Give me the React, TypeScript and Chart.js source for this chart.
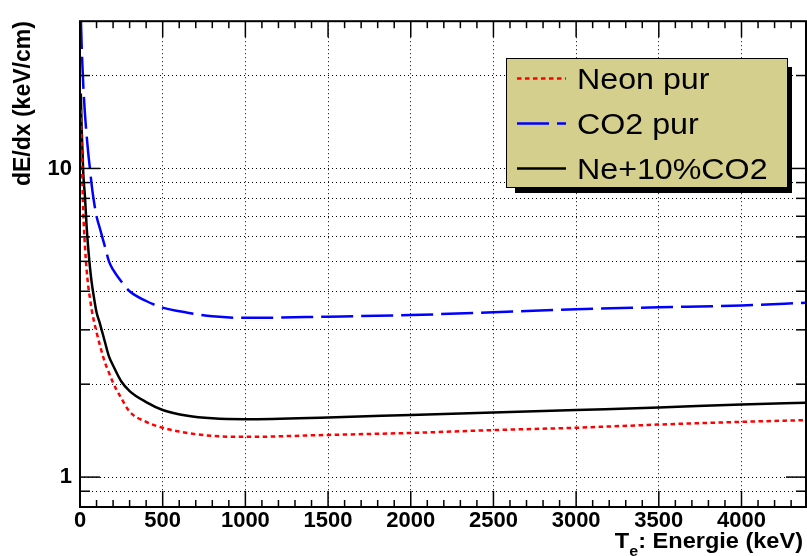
import React, { useEffect, useRef } from 'react';
import { Chart, registerables } from 'chart.js';

Chart.register(...registerables);

// ---- data ----
const energy = [5, 10, 20, 30, 40, 50, 60, 70, 80, 100, 120, 150, 175, 200, 250, 300, 400, 500, 650, 800, 1000, 1500, 2000, 2500, 3000, 3500, 4000, 4390];
const neonPur = [15.5, 11.3, 7.2, 5.6, 4.7, 4.15, 3.8, 3.5, 3.28, 2.95, 2.68, 2.36, 2.18, 2.02, 1.8, 1.63, 1.51, 1.445, 1.39, 1.36, 1.35, 1.37, 1.39, 1.42, 1.445, 1.48, 1.51, 1.53];
const co2Pur = [31, 25, 18.5, 15, 12.8, 11.2, 10, 8.9, 8.1, 7.0, 6.4, 5.6, 5.0, 4.7, 4.3, 4.0, 3.72, 3.54, 3.41, 3.32, 3.28, 3.31, 3.35, 3.42, 3.5, 3.55, 3.6, 3.67];
const neCo2 = [17.5, 13.5, 9.6, 8.1, 6.5, 5.5, 4.8, 4.3, 3.95, 3.42, 3.15, 2.75, 2.46, 2.3, 2.04, 1.9, 1.75, 1.65, 1.58, 1.55, 1.54, 1.56, 1.59, 1.62, 1.65, 1.68, 1.72, 1.74];

const seriesLabels = ['Neon pur', 'CO2 pur', 'Ne+10%CO2'];

const xMin = 0;
const xMax = 4390;
const xMajorTicks = [0, 500, 1000, 1500, 2000, 2500, 3000, 3500, 4000];
const xMinorStep = 100;
const yMin = 0.8;
const yMax = 30;
const yTickValues = [0.9, 1, 2, 3, 4, 5, 6, 7, 8, 9, 10, 20];
const yLabeled = [1, 10];

const yTitle = 'dE/dx (keV/cm)';
const xTitleMain = 'T';
const xTitleSub = 'e';
const xTitleRest = ': Energie (keV)';

const FONT = '"Liberation Sans", Arial, Helvetica, sans-serif';

const framePlugin = {
  id: 'rootFrame',
  afterDraw(chart: any) {
    const { ctx, chartArea, scales } = chart;
    const { left, right, top, bottom } = chartArea;
    const xs = scales.x;
    const ys = scales.y;
    ctx.save();
    ctx.setLineDash([]);
    ctx.strokeStyle = '#000';

    // ticks (inside)
    ctx.lineWidth = 1.5;
    const line = (x1: number, y1: number, x2: number, y2: number) => {
      ctx.beginPath();
      ctx.moveTo(x1, y1);
      ctx.lineTo(x2, y2);
      ctx.stroke();
    };
    for (let v = xMin; v <= xMax; v += xMinorStep) {
      const px = xs.getPixelForValue(v);
      const len = xMajorTicks.includes(v) ? 16 : 7;
      line(px, bottom, px, bottom - len);
      line(px, top, px, top + len);
    }
    for (const v of yTickValues) {
      const py = ys.getPixelForValue(v);
      const len = yLabeled.includes(v) ? 20 : 10;
      line(left, py, left + len, py);
      line(right, py, right - len, py);
    }

    // frame
    ctx.lineWidth = 2;
    ctx.strokeRect(left, top, right - left, bottom - top);

    // x title with subscript
    const sx = 1.07;
    ctx.fillStyle = '#000';
    ctx.textBaseline = 'alphabetic';
    ctx.textAlign = 'left';
    ctx.font = `bold 22px ${FONT}`;
    const wT = ctx.measureText(xTitleMain).width;
    const wR = ctx.measureText(xTitleRest).width;
    ctx.font = `bold 15px ${FONT}`;
    const wE = ctx.measureText(xTitleSub).width;
    const total = (wT + wE + wR) * sx;
    ctx.save();
    ctx.translate(803 - total, 548);
    ctx.scale(sx, 1);
    ctx.font = `bold 22px ${FONT}`;
    ctx.fillText(xTitleMain, 0, 0);
    ctx.fillText(xTitleRest, wT + wE, 0);
    ctx.font = `bold 15px ${FONT}`;
    ctx.fillText(xTitleSub, wT, 8);
    ctx.restore();

    // legend with shadow
    const L = { x: 506, y: 58, w: 281, h: 129 };
    ctx.fillStyle = '#000';
    ctx.fillRect(L.x + 9, L.y + 9, L.w - 4, L.h - 3 + 0);
    ctx.fillStyle = '#d4cf8d';
    ctx.fillRect(L.x, L.y, L.w, L.h);
    ctx.lineWidth = 1;
    ctx.strokeStyle = '#000';
    ctx.strokeRect(L.x + 0.5, L.y + 0.5, L.w, L.h);

    const baselines = [89, 134, 179];
    chart.data.datasets.forEach((ds: any, i: number) => {
      const b = baselines[i];
      const ly = b - 10.5;
      ctx.save();
      ctx.strokeStyle = ds.borderColor;
      ctx.lineWidth = ds.borderWidth;
      ctx.setLineDash(ds.borderDash || []);
      ctx.beginPath();
      ctx.moveTo(517, ly);
      ctx.lineTo(566, ly);
      ctx.stroke();
      ctx.restore();
      ctx.save();
      ctx.fillStyle = '#000';
      ctx.font = `29px ${FONT}`;
      ctx.translate(577, b);
      ctx.scale(1.11, 1);
      ctx.fillText(ds.label, 0, 0);
      ctx.restore();
    });
    ctx.restore();
  },
};

export default function App() {
  const ref = useRef<HTMLCanvasElement | null>(null);

  useEffect(() => {
    if (!ref.current) return;
    const mk = (vals: number[]) => energy.map((x, i) => ({ x, y: vals[i] }));
    const chart = new Chart(ref.current, {
      type: 'line',
      data: {
        datasets: [
          {
            label: seriesLabels[0],
            data: mk(neonPur),
            borderColor: '#ff0000',
            borderWidth: 2.5,
            borderDash: [4.5, 3.5],
            pointRadius: 0,
            fill: false,
            cubicInterpolationMode: 'monotone',
            clip: 0,
          },
          {
            label: seriesLabels[1],
            data: mk(co2Pur),
            borderColor: '#0000ff',
            borderWidth: 2.5,
            borderDash: [32, 8],
            pointRadius: 0,
            fill: false,
            cubicInterpolationMode: 'monotone',
            clip: 0,
          },
          {
            label: seriesLabels[2],
            data: mk(neCo2),
            borderColor: '#000000',
            borderWidth: 2.5,
            borderDash: [],
            pointRadius: 0,
            fill: false,
            cubicInterpolationMode: 'monotone',
            clip: 0,
          },
        ],
      } as any,
      options: {
        responsive: false,
        animation: false,
        devicePixelRatio: 1,
        layout: { padding: { top: 15, right: 1, left: 0, bottom: 0 } },
        plugins: { legend: { display: false }, tooltip: { enabled: false } },
        scales: {
          x: {
            type: 'linear',
            min: xMin,
            max: xMax,
            afterFit: (s: any) => {
              s.height = 49;
            },
            afterBuildTicks: (s: any) => {
              s.ticks = xMajorTicks.map((v) => ({ value: v }));
            },
            ticks: {
              callback: (v: any) => String(v),
              autoSkip: false,
              maxRotation: 0,
              padding: 1,
              color: '#000',
              font: { family: FONT, size: 22, weight: 'bold' },
            },
            grid: { color: '#000', lineWidth: 1, drawTicks: false },
            border: { display: false, dash: [1, 3] },
          },
          y: {
            type: 'logarithmic',
            min: yMin,
            max: yMax,
            afterFit: (s: any) => {
              s.width = 80;
            },
            afterBuildTicks: (s: any) => {
              s.ticks = yTickValues.map((v) => ({ value: v }));
            },
            ticks: {
              callback: (v: any) => (yLabeled.includes(Number(v)) ? String(v) : ''),
              autoSkip: false,
              padding: 8,
              color: '#000',
              font: { family: FONT, size: 22, weight: 'bold' },
            },
            grid: { color: '#000', lineWidth: 1, drawTicks: false },
            border: { display: false, dash: [1, 3] },
            title: {
              display: true,
              text: yTitle,
              align: 'end',
              color: '#000',
              padding: { top: 10, bottom: 0 },
              font: { family: FONT, size: 23, weight: 'bold' },
            },
          },
        },
      } as any,
      plugins: [framePlugin],
    });
    return () => chart.destroy();
  }, []);

  return (
    <div style={{ position: 'absolute', left: 0, top: 0, width: 807, height: 556, background: '#fff' }}>
      <canvas ref={ref} width={807} height={556} style={{ display: 'block' }} />
    </div>
  );
}
